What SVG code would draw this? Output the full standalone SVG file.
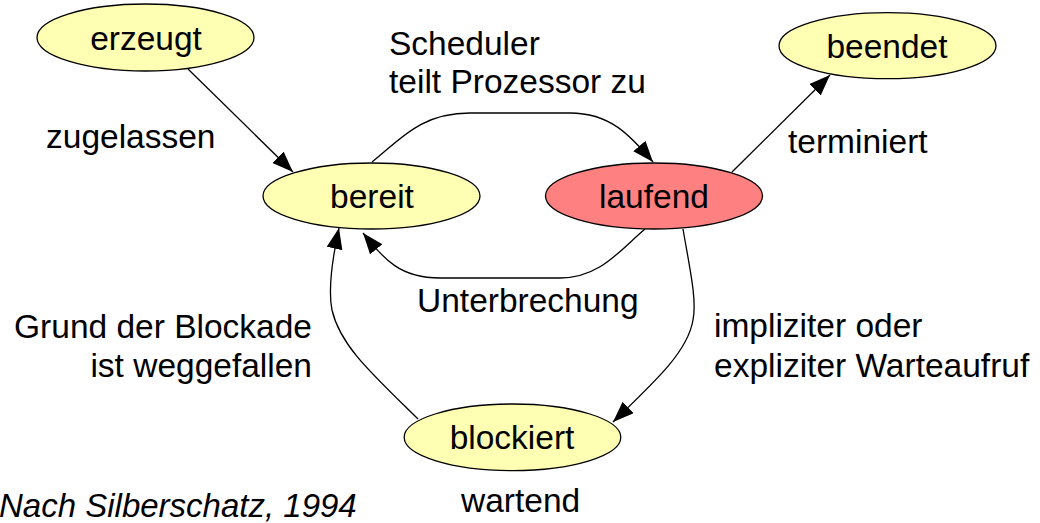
<svg xmlns="http://www.w3.org/2000/svg" width="1040" height="523" viewBox="0 0 1040 523">
<style>
.n{stroke:#000;stroke-width:1.3}
.y{fill:#ffffb3}
.r{fill:#ff8080}
text{font-family:"Liberation Sans",Arial,sans-serif;font-size:33.5px;fill:#000}
.c{text-anchor:middle}
.e{text-anchor:end}
.i{font-style:italic;font-size:33px}
.l{fill:none;stroke:#000;stroke-width:1.3}
</style>
<defs>
<marker id="a" markerUnits="userSpaceOnUse" markerWidth="24" markerHeight="18" refX="21" refY="8" orient="auto" viewBox="0 0 24 18">
<path d="M0,0 L21,8 L0,16 z" fill="#000"/>
</marker>
</defs>
<rect width="1040" height="523" fill="#fff"/>
<g id="connectors">
<path class="l" d="M188,69 L293,172" marker-end="url(#a)"/>
<path class="l" d="M372,162 C400,140 420,113 470,113 L570,113 C610,113 630,135 653,162" marker-end="url(#a)"/>
<path class="l" d="M645,229 C620,250 600,278 560,278 L440,278 C400,278 385,260 363,233" marker-end="url(#a)"/>
<path class="l" d="M732,172 L830,75" marker-end="url(#a)"/>
<path class="l" d="M683,229 C690,270 697,300 693,320 C688,350 660,377 613,422" marker-end="url(#a)"/>
<path class="l" d="M418,419 C370,372 340,345 332,310 C328,290 332,260 339,228" marker-end="url(#a)"/>
</g>
<g id="erzeugt"><ellipse class="n y" cx="145.5" cy="37.5" rx="108.5" ry="33.5"/><text class="c" x="146" y="50">erzeugt</text></g>
<g id="bereit"><ellipse class="n y" cx="371.5" cy="196" rx="108.5" ry="33"/><text class="c" x="372" y="208">bereit</text></g>
<g id="laufend"><ellipse class="n r" cx="654" cy="196" rx="108.5" ry="33"/><text class="c" x="654" y="208">laufend</text></g>
<g id="beendet"><ellipse class="n y" cx="887.5" cy="45.7" rx="108.5" ry="33"/><text class="c" x="887" y="58">beendet</text></g>
<g id="blockiert"><ellipse class="n y" cx="512.5" cy="437.3" rx="108.3" ry="33.3"/><text class="c" x="512" y="449">blockiert</text></g>
<g id="labels">
<text x="46" y="148">zugelassen</text>
<text x="389" y="55">Scheduler</text>
<text x="389" y="93">teilt Prozessor zu</text>
<text x="788" y="153">terminiert</text>
<text x="417" y="312">Unterbrechung</text>
<text class="e" x="312" y="338">Grund der Blockade</text>
<text class="e" x="312" y="377">ist weggefallen</text>
<text x="714" y="337">impliziter oder</text>
<text x="714" y="377">expliziter Warteaufruf</text>
<text x="461" y="512">wartend</text>
<text class="i" x="-1" y="517">Nach Silberschatz, 1994</text>
</g>
</svg>
